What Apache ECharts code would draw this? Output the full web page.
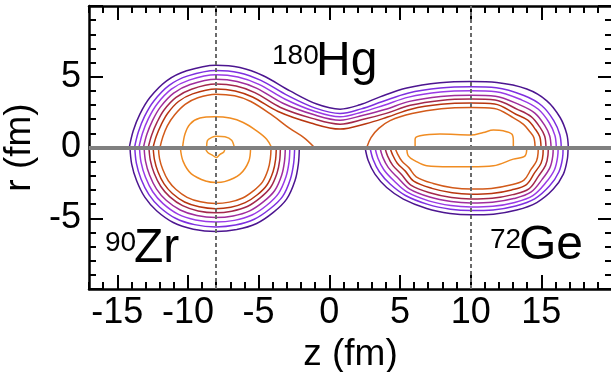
<!DOCTYPE html>
<html>
<head>
<meta charset="utf-8">
<script src="https://cdn.jsdelivr.net/npm/echarts@6/dist/echarts.min.js"></script>
<style>html,body{margin:0;padding:0;background:#fff}#c{width:611px;height:372px}</style>
</head>
<body>
<div id="c"></div>
<script>
// ---- axis ticks ----
const xTickLabels = [-15, -10, -5, 0, 5, 10, 15];
const xMajorTicks = [-15, -10, -5, 0, 5, 10, 15];
const yTickLabelsHidden = [-10, 10];
const fragmentCenters = [-8, 10];   // dotted lines (fm)
const symmetryAxis = [0];           // r = 0 line

// ---- contour colours, outer -> inner ----
const levelColors = ['#4c1590', '#7e2fe0', '#9a3ae6', '#a02c9c', '#a3284c', '#b8360f', '#d25a1a', '#f08c22', '#f0962a'];

// ---- 180Hg (upper half, r >= 0): [z, r] ----
const hg1 = [[-14.15,0],[-13.87,1.18],[-13.4,2.36],[-12.69,3.53],[-11.51,4.71],[-10.09,5.42],[-8.02,5.82],[-6.32,5.65],[-4.67,5.07],[-2.78,4.0],[-0.89,3.07],[0.76,2.71],[2.17,3.02],[3.59,3.58],[5.48,4.2],[7.83,4.57],[10.03,4.66],[11.85,4.59],[13.97,4.13],[15.39,3.30],[16.33,2.12],[16.8,0.95],[16.91,0]];
const hg2 = [[-13.78,0],[-13.51,1.09],[-13.07,2.20],[-12.41,3.29],[-11.33,4.39],[-10.0,5.06],[-8.02,5.45],[-6.39,5.29],[-4.84,4.74],[-2.96,3.68],[-0.98,2.78],[0.76,2.40],[2.26,2.73],[3.72,3.23],[5.55,3.84],[7.85,4.20],[10.03,4.29],[11.81,4.22],[13.77,3.67],[15.04,2.95],[15.88,1.90],[16.31,0.90],[16.41,0]];
const hg3 = [[-13.47,0],[-13.21,1.02],[-12.79,2.06],[-12.18,3.08],[-11.17,4.12],[-9.92,4.76],[-8.02,5.14],[-6.46,4.98],[-4.98,4.46],[-3.12,3.41],[-1.05,2.56],[0.76,2.17],[2.33,2.51],[3.82,2.97],[5.61,3.56],[7.86,3.92],[10.03,4.01],[11.78,3.94],[13.63,3.35],[14.79,2.70],[15.56,1.75],[15.96,0.86],[16.06,0]];
const hg4 = [[-13.15,0],[-12.90,0.95],[-12.5,1.92],[-11.94,2.87],[-11.01,3.84],[-9.84,4.45],[-8.02,4.82],[-6.52,4.67],[-5.12,4.18],[-3.28,3.13],[-1.12,2.33],[0.76,1.93],[2.40,2.28],[3.93,2.68],[5.67,3.26],[7.88,3.61],[10.03,3.70],[11.75,3.63],[13.48,3.01],[14.54,2.43],[15.23,1.58],[15.59,0.83],[15.69,0]];
const hg5 = [[-12.81,0],[-12.57,0.87],[-12.19,1.77],[-11.69,2.65],[-10.84,3.54],[-9.75,4.12],[-8.02,4.48],[-6.59,4.34],[-5.27,3.88],[-3.45,2.83],[-1.21,2.06],[0.76,1.65],[2.49,2.01],[4.02,2.41],[5.73,2.98],[7.89,3.33],[10.03,3.42],[11.73,3.35],[13.34,2.68],[14.28,2.18],[14.91,1.42],[15.24,0.79],[15.33,0]];
const hg6 = [[-12.47,0],[-12.24,0.79],[-11.89,1.62],[-11.43,2.42],[-10.67,3.25],[-9.67,3.79],[-8.02,4.14],[-6.66,4.0],[-5.43,3.57],[-3.62,2.54],[-1.31,1.73],[0.76,1.30],[2.59,1.68],[4.12,2.15],[5.78,2.71],[7.91,3.05],[10.03,3.14],[11.70,3.07],[13.2,2.35],[14.04,1.93],[14.59,1.27],[14.89,0.76],[14.98,0]];
const hg7L = [[-11.98,0],[-11.78,0.75],[-11.45,1.55],[-10.95,2.3],[-10.2,3.05],[-9.3,3.52],[-8.02,3.77],[-6.7,3.65],[-5.55,3.25],[-4.0,2.25],[-2.8,1.35],[-1.8,0.7],[-1.05,0]];
const hg7R = [[2.65,0],[2.95,0.7],[3.5,1.35],[4.3,1.9],[5.85,2.4],[7.92,2.74],[10.03,2.83],[11.67,2.76],[13.03,2.1],[13.74,1.63],[14.21,1.09],[14.47,0.71],[14.56,0]];
const hg8L = [[-10.38,0],[-10.21,0.95],[-9.86,1.65],[-9.15,2.08],[-8.09,2.17],[-7.03,2.08],[-6.09,1.77],[-5.14,1.18],[-4.43,0.59],[-4.08,0]];
const hg8R = [[6.07,0],[6.07,0.59],[6.42,0.83],[7.83,0.95],[10.03,0.88],[10.90,1.06],[11.61,1.23],[12.31,1.18],[12.91,0.95],[13.02,0.47],[13.02,0]];
const core9Up = [[-8.68,0],[-8.63,0.47],[-8.32,0.71],[-7.97,0.8],[-7.38,0.76],[-6.91,0.52],[-6.72,0]];

// ---- 90Zr fragment (lower half, left) ----
const zr1 = [[-14.1,0],[-13.98,-1.17],[-13.63,-2.35],[-13.04,-3.53],[-12.22,-4.47],[-11.04,-5.30],[-9.62,-5.77],[-8.02,-5.94],[-6.55,-5.80],[-5.14,-5.37],[-3.96,-4.59],[-3.02,-3.65],[-2.43,-2.35],[-2.19,-1.17],[-2.12,0]];
const zr2 = [[-13.76,0],[-13.65,-1.10],[-13.32,-2.22],[-12.76,-3.33],[-11.99,-4.22],[-10.88,-5.0],[-9.53,-5.45],[-8.02,-5.61],[-6.64,-5.48],[-5.31,-5.07],[-4.19,-4.33],[-3.30,-3.45],[-2.75,-2.22],[-2.52,-1.10],[-2.45,0]];
const zr3 = [[-13.43,0],[-13.32,-1.04],[-13.01,-2.09],[-12.49,-3.13],[-11.76,-3.97],[-10.71,-4.71],[-9.45,-5.12],[-8.03,-5.27],[-6.72,-5.15],[-5.47,-4.77],[-4.42,-4.08],[-3.59,-3.24],[-3.07,-2.09],[-2.85,-1.04],[-2.79,0]];
const zr4 = [[-13.10,0],[-13.0,-0.98],[-12.71,-1.96],[-12.22,-2.94],[-11.54,-3.73],[-10.55,-4.42],[-9.37,-4.81],[-8.03,-4.95],[-6.81,-4.84],[-5.63,-4.48],[-4.65,-3.83],[-3.86,-3.04],[-3.37,-1.96],[-3.17,-0.98],[-3.11,0]];
const zr5 = [[-12.76,0],[-12.66,-0.91],[-12.39,-1.82],[-11.93,-2.74],[-11.30,-3.47],[-10.38,-4.11],[-9.28,-4.48],[-8.04,-4.61],[-6.90,-4.50],[-5.80,-4.17],[-4.89,-3.56],[-4.16,-2.83],[-3.70,-1.82],[-3.51,-0.91],[-3.46,0]];
const zr6 = [[-12.46,0],[-12.37,-0.85],[-12.12,-1.71],[-11.69,-2.57],[-11.10,-3.25],[-10.24,-3.85],[-9.21,-4.19],[-8.04,-4.32],[-6.97,-4.22],[-5.95,-3.90],[-5.09,-3.34],[-4.41,-2.65],[-3.98,-1.71],[-3.80,-0.85],[-3.75,0]];
const zr7 = [[-12.09,0],[-12.01,-0.78],[-11.78,-1.56],[-11.39,-2.35],[-10.84,-2.97],[-10.06,-3.52],[-9.11,-3.84],[-8.05,-3.95],[-7.07,-3.86],[-6.13,-3.57],[-5.35,-3.05],[-4.72,-2.43],[-4.33,-1.56],[-4.17,-0.78],[-4.12,0]];
const zr8 = [[-10.54,0],[-10.34,-0.98],[-9.76,-1.86],[-8.68,-2.39],[-8.02,-2.47],[-7.41,-2.41],[-6.33,-1.90],[-5.70,-0.98],[-5.57,0]];
const core9Down = [[-8.8,0],[-8.6,-0.35],[-8.25,-0.55],[-8.0,-0.71],[-7.75,-0.5],[-7.45,-0.3],[-7.38,0]];

// ---- 72Ge fragment (lower half, right) ----
const ge1 = [[2.53,0],[2.76,-0.94],[3.23,-1.88],[4.06,-2.83],[5.24,-3.65],[6.89,-4.31],[8.54,-4.66],[10.03,-4.76],[11.61,-4.71],[13.26,-4.42],[14.68,-3.89],[15.85,-2.94],[16.56,-1.88],[16.84,-0.82],[16.89,0]];
const ge2 = [[2.88,0],[3.10,-0.85],[3.55,-1.73],[4.32,-2.60],[5.39,-3.39],[6.97,-4.02],[8.57,-4.36],[10.03,-4.46],[11.59,-4.41],[13.19,-4.13],[14.53,-3.63],[15.59,-2.71],[16.24,-1.73],[16.50,-0.75],[16.54,0]];
const ge3 = [[3.23,0],[3.44,-0.76],[3.86,-1.57],[4.59,-2.37],[5.52,-3.16],[7.03,-3.77],[8.60,-4.10],[10.03,-4.20],[11.57,-4.15],[13.12,-3.88],[14.40,-3.40],[15.32,-2.48],[15.93,-1.57],[16.15,-0.68],[16.19,0]];
const ge4 = [[3.58,0],[3.78,-0.68],[4.18,-1.42],[4.85,-2.14],[5.66,-2.92],[7.10,-3.50],[8.62,-3.82],[10.03,-3.92],[11.54,-3.87],[13.05,-3.61],[14.26,-3.16],[15.06,-2.25],[15.61,-1.42],[15.81,-0.61],[15.84,0]];
const ge5 = [[3.93,0],[4.12,-0.59],[4.49,-1.26],[5.11,-1.91],[5.80,-2.68],[7.17,-3.22],[8.65,-3.54],[10.03,-3.64],[11.52,-3.59],[12.98,-3.33],[14.12,-2.92],[14.80,-2.02],[15.30,-1.26],[15.47,-0.54],[15.49,0]];
const ge6 = [[4.29,0],[4.47,-0.50],[4.81,-1.11],[5.38,-1.67],[5.97,-2.38],[7.26,-2.89],[8.69,-3.20],[10.03,-3.30],[11.49,-3.25],[12.9,-3.0],[13.95,-2.62],[14.53,-1.78],[14.98,-1.11],[15.12,-0.47],[15.13,0]];
const ge7 = [[4.64,0],[4.81,-0.41],[5.13,-0.95],[5.64,-1.44],[6.15,-2.07],[7.35,-2.54],[8.72,-2.84],[10.03,-2.94],[11.46,-2.89],[12.81,-2.65],[13.77,-2.30],[14.27,-1.55],[14.66,-0.95],[14.77,-0.40],[14.78,0]];
const ge8 = [[5.48,0],[5.59,-0.59],[6.07,-0.94],[6.89,-1.29],[8.54,-1.36],[10.03,-1.36],[11.61,-1.29],[13.02,-0.82],[13.85,-0.59],[13.97,0]];

// ---- labels ----
const nuclei = [
  { mass: '180', sym: 'Hg' },
  { mass: '90', sym: 'Zr' },
  { mass: '72', sym: 'Ge' }
];

const FONT = '"Liberation Sans", Arial, Helvetica, sans-serif';

const contours = [
  [hg1,0],[hg2,1],[hg3,2],[hg4,3],[hg5,4],[hg6,5],[hg7L,6],[hg7R,6],[hg8L,7],[hg8R,7],[core9Up,8],
  [zr1,0],[zr2,1],[zr3,2],[zr4,3],[zr5,4],[zr6,5],[zr7,6],[zr8,7],[core9Down,8],
  [ge1,0],[ge2,1],[ge3,2],[ge4,3],[ge5,4],[ge6,5],[ge7,6],[ge8,7]
];

const series = contours.map(([d, lvl]) => ({
  type: 'line', data: d, smooth: 0.35, showSymbol: false, symbol: 'none',
  lineStyle: { color: levelColors[lvl], width: 1.5 }, silent: true, animation: false, z: 2,
  xAxisIndex: 0, yAxisIndex: 0
}));

// dotted vertical lines at the fragment centres
series.push({
  type: 'line', data: [], xAxisIndex: 0, yAxisIndex: 0, z: 4, silent: true, animation: false,
  markLine: {
    symbol: ['none', 'none'], silent: true, animation: false, label: { show: false },
    lineStyle: { color: '#6a6a6a', width: 2, type: [4, 3] },
    emphasis: { disabled: true },
    data: fragmentCenters.map(v => ({ xAxis: v }))
  }
});
// thick grey r = 0 line
series.push({
  type: 'line', data: [], xAxisIndex: 0, yAxisIndex: 0, z: 5, silent: true, animation: false,
  markLine: {
    symbol: ['none', 'none'], silent: true, animation: false, label: { show: false },
    lineStyle: { color: '#808080', width: 4, type: 'solid' },
    emphasis: { disabled: true },
    data: symmetryAxis.map(v => ({ yAxis: v }))
  }
});

const black = '#000';
const baseX = { type: 'value', min: -17, max: 20, splitLine: { show: false }, gridIndex: 0 };
const chart = echarts.init(document.getElementById('c'), null, { renderer: 'canvas' });

chart.setOption({
  animation: false,
  backgroundColor: '#fff',
  grid: { left: 89, top: 6, right: -1, bottom: 83, containLabel: false, outerBoundsMode: 'none' },
  xAxis: [
    Object.assign({}, baseX, {
      position: 'bottom', interval: 1,
      axisLine: { show: true, onZero: false, lineStyle: { color: black, width: 2.5 } },
      axisTick: { show: true, inside: true, length: 7, lineStyle: { color: black, width: 2 } },
      axisLabel: { show: true, customValues: xTickLabels, fontSize: 36, fontFamily: FONT, color: black, margin: 6 },
      name: 'z (fm)', nameLocation: 'middle', nameGap: 42,
      nameTextStyle: { fontSize: 37, fontFamily: FONT, color: black }
    }),
    Object.assign({}, baseX, {
      position: 'bottom',
      axisLine: { show: false, onZero: false },
      axisTick: { show: true, inside: true, length: 14, customValues: xMajorTicks, lineStyle: { color: black, width: 2 } },
      axisLabel: { show: false }
    }),
    Object.assign({}, baseX, {
      position: 'top', interval: 1,
      axisLine: { show: true, onZero: false, lineStyle: { color: black, width: 2.5 } },
      axisTick: { show: true, inside: true, length: 7, lineStyle: { color: black, width: 2 } },
      axisLabel: { show: false }
    }),
    Object.assign({}, baseX, {
      position: 'top',
      axisLine: { show: false, onZero: false },
      axisTick: { show: true, inside: true, length: 14, customValues: xMajorTicks, lineStyle: { color: black, width: 2 } },
      axisLabel: { show: false }
    })
  ],
  yAxis: [
    {
      type: 'value', min: -10, max: 10, interval: 5, position: 'left',
      splitLine: { show: false },
      axisLine: { show: true, onZero: false, lineStyle: { color: black, width: 2.5 } },
      axisTick: { show: true, inside: true, length: 14, lineStyle: { color: black, width: 2 } },
      minorTick: { show: true, splitNumber: 5, length: 7, lineStyle: { color: black, width: 2 } },
      axisLabel: {
        fontSize: 36, fontFamily: FONT, color: black, margin: 8,
        formatter: v => (yTickLabelsHidden.indexOf(v) >= 0 ? '' : String(v))
      },
      name: 'r (fm)', nameLocation: 'middle', nameGap: 46,
      nameTextStyle: { fontSize: 37, fontFamily: FONT, color: black }
    },
    {
      type: 'value', min: -10, max: 10, interval: 5, position: 'right',
      splitLine: { show: false },
      axisLine: { show: true, onZero: false, lineStyle: { color: black, width: 2.5 } },
      axisTick: { show: true, inside: true, length: 14, lineStyle: { color: black, width: 2 } },
      minorTick: { show: true, splitNumber: 5, length: 7, lineStyle: { color: black, width: 2 } },
      axisLabel: { show: false }
    }
  ],
  graphic: [
    { type: 'text', left: 272, top: 42, style: { text: nuclei[0].mass, font: '28px ' + FONT, fill: black } },
    { type: 'text', left: 316, top: 38, style: { text: nuclei[0].sym, font: '48px ' + FONT, fill: black } },
    { type: 'text', left: 105, top: 229, style: { text: nuclei[1].mass, font: '28px ' + FONT, fill: black } },
    { type: 'text', left: 134, top: 225, style: { text: nuclei[1].sym, font: '48px ' + FONT, fill: black } },
    { type: 'text', left: 490, top: 226, style: { text: nuclei[2].mass, font: '28px ' + FONT, fill: black } },
    { type: 'text', left: 519, top: 222, style: { text: nuclei[2].sym, font: '48px ' + FONT, fill: black } }
  ],
  series: series
});
</script>
</body>
</html>
